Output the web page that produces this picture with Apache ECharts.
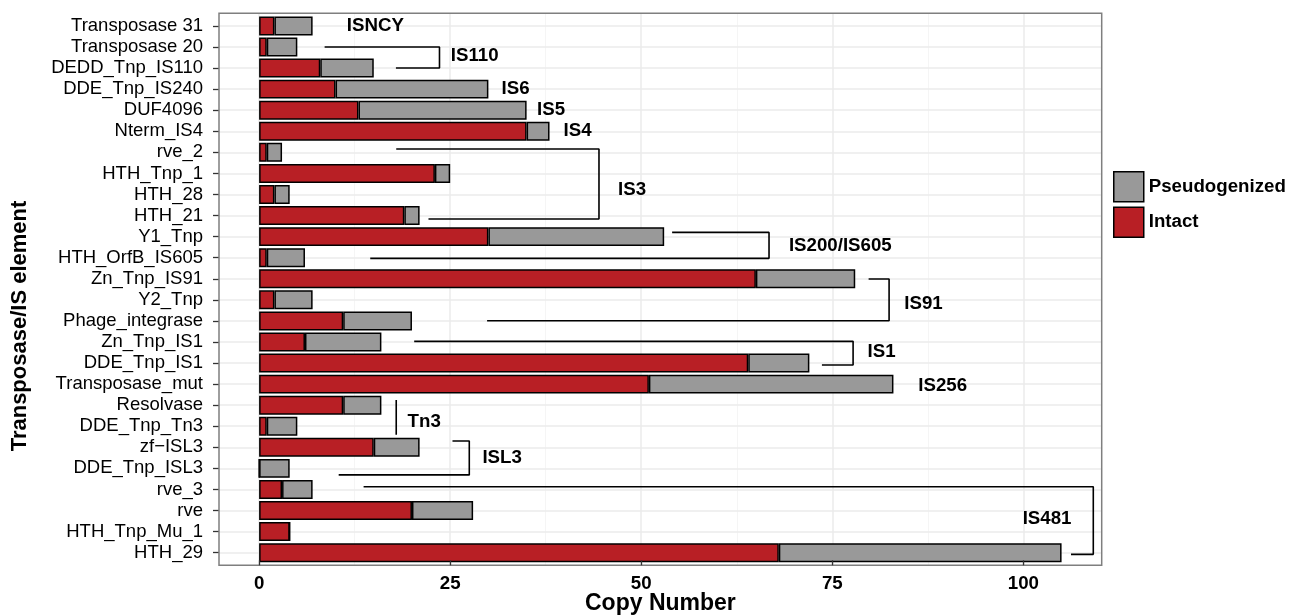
<!DOCTYPE html>
<html><head><meta charset="utf-8">
<script src="https://cdn.jsdelivr.net/npm/echarts@6/dist/echarts.min.js"></script>
<style>html,body{margin:0;padding:0;background:#fff}#c{width:1299px;height:615px}</style>
</head><body><div id="c"></div>
<script>
const categories = ['Transposase 31','Transposase 20','DEDD_Tnp_IS110','DDE_Tnp_IS240','DUF4096','Nterm_IS4','rve_2','HTH_Tnp_1','HTH_28','HTH_21','Y1_Tnp','HTH_OrfB_IS605','Zn_Tnp_IS91','Y2_Tnp','Phage_integrase','Zn_Tnp_IS1','DDE_Tnp_IS1','Transposase_mut','Resolvase','DDE_Tnp_Tn3','zf\u2212ISL3','DDE_Tnp_ISL3','rve_3','rve','HTH_Tnp_Mu_1','HTH_29'];
const intact        = [2,1,8,10,13,35,1,23,2,19,30,1,65,2,11,6,64,51,11,1,15,0,3,20,4,68];
const pseudogenized = [5,4,7,20,22,3,2,2,2,2,23,5,13,5,9,10,8,32,5,4,6,4,4,8,0,37];
const xTicks = [0,25,50,75,100];
const xMinor = [12.5,37.5,62.5,87.5];

const groupNames  = ['ISNCY','IS110','IS6','IS5','IS4','IS3','IS200/IS605','IS91','IS1','IS256','Tn3','ISL3','IS481'];
const groupLabelX = [15.2,28.2,33.56,38.2,41.66,48.8,76.05,86.93,81.45,89.45,21.6,31.8,103.1];
const groupLabelY = [0,1.4,3,4,5,7.79,10.43,13.2,15.46,17.1,18.78,20.5,23.41];

const bracketX = [
  [8.57,23.6,23.6,17.9],
  [17.94,44.47,44.47,22.16],
  [54.04,66.72,66.72,14.54],
  [79.75,82.43,82.43,29.83],
  [20.29,77.72,77.72,73.64],
  [17.94,17.94],
  [25.3,27.5,27.5,10.41],
  [13.67,109.15,109.15,106.23]
];
const bracketY = [
  [1,1,2,2],
  [5.84,5.84,9.16,9.16],
  [9.8,9.8,11.03,11.03],
  [12.01,12.01,13.99,13.99],
  [14.97,14.97,16.09,16.09],
  [17.75,19.4],
  [19.7,19.7,21.31,21.31],
  [21.87,21.87,25.08,25.08]
];

const FONT = 'Liberation Sans, Arial, Helvetica, sans-serif';
const chart = echarts.init(document.getElementById('c'), null, {renderer:'canvas'});

const gridLines = [];
xMinor.forEach(v => gridLines.push({xAxis:v, lineStyle:{color:'#F3F3F3', width:0.8, type:'solid'}}));
xTicks.forEach(v => gridLines.push({xAxis:v, lineStyle:{color:'#EBEBEB', width:1.5, type:'solid'}}));
categories.forEach((c,i) => gridLines.push({yAxis:i, lineStyle:{color:'#EBEBEB', width:1.5, type:'solid'}}));

const series = [
  {type:'line', xAxisIndex:1, yAxisIndex:2, data:[], silent:true, z:1,
   markLine:{z:1, symbol:['none','none'], silent:true, animation:false, label:{show:false}, data:gridLines}},
  {name:'Intact', type:'bar', stack:'total', xAxisIndex:0, yAxisIndex:0, data:intact, barCategoryGap:'10%', z:3,
   itemStyle:{color:'#B81F25', borderColor:'#000', borderWidth:1.5}},
  {name:'Pseudogenized', type:'bar', stack:'total', xAxisIndex:0, yAxisIndex:0, data:pseudogenized, barCategoryGap:'10%', z:3,
   itemStyle:{color:'#999999', borderColor:'#000', borderWidth:1.5}}
];
bracketX.forEach((xs,k) => {
  series.push({type:'line', xAxisIndex:0, yAxisIndex:1, silent:true, z:4, showSymbol:false, symbol:'none',
    data: xs.map((x,j) => [x, bracketY[k][j]]), lineStyle:{color:'#000', width:1.6}});
});
series.push({type:'scatter', xAxisIndex:0, yAxisIndex:1, silent:true, z:5, symbolSize:1,
  itemStyle:{color:'#fff', opacity:0},
  data: groupNames.map((n,i) => ({name:n, value:[groupLabelX[i], groupLabelY[i]]})),
  label:{show:true, formatter:'{b}', position:'inside', fontSize:18.7, fontWeight:'bold', color:'#000', opacity:1,
         textBorderWidth:0, textBorderColor:'transparent', fontFamily:FONT}});

chart.setOption({
  animation:false,
  textStyle:{fontFamily:FONT},
  legend:{data:['Pseudogenized','Intact'], orient:'vertical', left:1113, top:171, itemWidth:30, itemHeight:30, itemGap:4,
    icon:'rect', padding:0, textStyle:{fontSize:18.7, fontWeight:'bold', color:'#000', fontFamily:FONT},
    itemStyle:{borderColor:'#000', borderWidth:1.5}},
  grid:[
    {left:219, right:197.3, top:15.4, bottom:51.8, containLabel:false, outerBoundsMode:'none'},
    {left:219, right:197.3, top:13.3, bottom:49.7, containLabel:false, outerBoundsMode:'none',
     show:true, borderColor:'#7F7F7F', borderWidth:1.5, backgroundColor:'transparent', z:6}
  ],
  graphic:[
    {type:'text', x:20, y:326, rotation:Math.PI/2,
     style:{text:'Transposase/IS element', fontSize:22, fontWeight:'bold', fill:'#000', fontFamily:FONT,
            align:'center', verticalAlign:'middle'}},
    {type:'text', x:660.4, y:604,
     style:{text:'Copy Number', fontSize:23, fontWeight:'bold', fill:'#000', fontFamily:FONT,
            align:'center', verticalAlign:'middle'}}
  ],
  xAxis:[
    {gridIndex:0, type:'value', min:-5.25, max:110.25, show:false, axisLine:{onZero:false}},
    {gridIndex:1, type:'value', min:-5.25, max:110.25, position:'bottom', z:10,
     axisLine:{show:false, onZero:false}, splitLine:{show:false},
     axisTick:{show:true, inside:true, customValues:xTicks, length:5, lineStyle:{color:'#333', width:1.3}},
     axisLabel:{customValues:xTicks, fontSize:18.7, fontWeight:'bold', color:'#000', margin:9, fontFamily:FONT}}
  ],
  yAxis:[
    {gridIndex:0, type:'category', data:categories, inverse:true,
     axisLine:{show:false, onZero:false}, splitLine:{show:false},
     axisTick:{show:true, interval:0, alignWithLabel:true, length:6, lineStyle:{color:'#333', width:1.3}},
     axisLabel:{interval:0, fontSize:18.5, color:'#000', margin:16, fontFamily:FONT}},
    {gridIndex:0, type:'value', min:-0.5, max:25.5, inverse:true, show:false, axisLine:{onZero:false}},
    {gridIndex:1, type:'value', min:-0.6, max:25.6, inverse:true, show:false, axisLine:{onZero:false}}
  ],
  series: series
});
</script>
</body></html>
